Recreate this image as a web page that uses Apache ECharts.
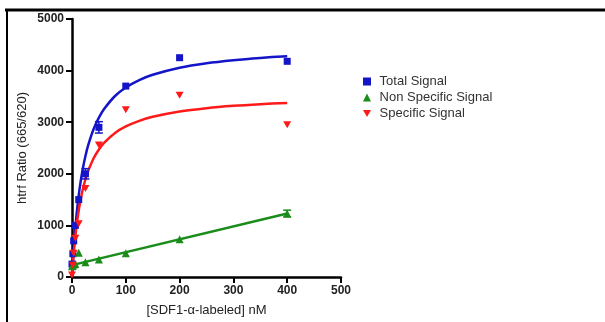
<!DOCTYPE html>
<html><head><meta charset="utf-8">
<script src="https://cdn.jsdelivr.net/npm/echarts@6/dist/echarts.min.js"></script>
<style>html,body{margin:0;padding:0;background:#fff}#c{width:605px;height:322px}</style>
</head><body><div id="c"></div>
<script>
// concentrations (nM)
const conc = [0, 1.5625, 3.125, 6.25, 12.5, 25, 50, 100, 200, 400];
const totalSignal = [250, 450, 700, 1000, 1500, 2000, 2900, 3700, 4250, 4180];
const nonSpecific = [210, 220, 240, 250, 470, 285, 340, 460, 730, 1230];
const specific = [40, 230, 460, 750, 1030, 1715, 2560, 3240, 3520, 2950];
// error bars (half-width) where visible
const totalErr = [0, 0, 0, 0, 0, 100, 110, 0, 0, 0];
const nonSpecErr = [0, 0, 0, 0, 0, 0, 0, 0, 0, 65];
// fitted curves
const fitX = [0, 2, 4, 6, 8, 10, 12.5, 15, 20, 25, 30, 40, 50, 60, 80, 100, 125, 150, 200, 250, 300, 350, 400];
const fitTotal = [0, 358, 664, 927, 1157, 1360, 1582, 1776, 2092, 2345, 2549, 2862, 3089, 3260, 3508, 3673, 3817, 3920, 4056, 4143, 4202, 4246, 4280];
const fitSpecific = [0, 296, 548, 763, 949, 1113, 1290, 1443, 1695, 1894, 2054, 2297, 2472, 2605, 2792, 2918, 3027, 3104, 3207, 3272, 3317, 3349, 3374];
const fitNSx = [0, 400];
const fitNS = [230, 1230];
const xTicks = [0, 100, 200, 300, 400, 500];
const yTicks = [0, 1000, 2000, 3000, 4000, 5000];

const BLUE = '#1414c8', GREEN = '#1a8c1a', RED = '#ff1a1a';
const zip = (a, b) => a.map((v, i) => [v, b[i]]);
const errData = (ys, es) => conc.map((x, i) => [x, ys[i] - es[i], ys[i] + es[i]]).filter((d, i) => es[i] > 0);

function errRender(color) {
  return function (params, api) {
    const x = api.value(0), lo = api.value(1), hi = api.value(2);
    const p1 = api.coord([x, lo]), p2 = api.coord([x, hi]);
    const w = 4;
    return {
      type: 'group',
      children: [
        {type: 'line', shape: {x1: p1[0], y1: p1[1], x2: p2[0], y2: p2[1]}, style: {stroke: color, lineWidth: 1.5}},
        {type: 'line', shape: {x1: p1[0] - w, y1: p1[1], x2: p1[0] + w, y2: p1[1]}, style: {stroke: color, lineWidth: 1.5}},
        {type: 'line', shape: {x1: p2[0] - w, y1: p2[1], x2: p2[0] + w, y2: p2[1]}, style: {stroke: color, lineWidth: 1.5}}
      ]
    };
  };
}

const chart = echarts.init(document.getElementById('c'), null, {renderer: 'canvas'});
const axisCommon = {
  axisLine: {show: true, lineStyle: {color: '#000', width: 2.5}},
  axisTick: {show: true, length: 6, lineStyle: {color: '#000', width: 2}},
  splitLine: {show: false},
  axisLabel: {color: '#222', fontFamily: 'Arial, Liberation Sans', fontSize: 12, fontWeight: 'bold', margin: 8, formatter: v => String(v)}
};
const DOWN_TRI = 'path://M0,0 L10,0 L5,9 Z';
chart.setOption({
  animation: false,
  backgroundColor: '#fff',
  grid: {left: 72, right: 264, top: 19, bottom: 41},
  xAxis: Object.assign({}, axisCommon, {
    type: 'value', min: xTicks[0], max: xTicks[xTicks.length - 1], interval: 100,
    name: '[SDF1-\u03b1-labeled] nM', nameLocation: 'middle', nameGap: 27,
    nameTextStyle: {color: '#222', fontFamily: 'Arial, Liberation Sans', fontSize: 13}
  }),
  yAxis: Object.assign({}, axisCommon, {
    type: 'value', min: yTicks[0], max: yTicks[yTicks.length - 1], interval: 1000,
    name: 'htrf Ratio (665/620)', nameLocation: 'middle', nameGap: 43,
    nameTextStyle: {color: '#222', fontFamily: 'Arial, Liberation Sans', fontSize: 13}
  }),
  legend: {
    orient: 'vertical', left: 358, top: 70, itemWidth: 8, itemHeight: 8, itemGap: 3,
    data: [
      {name: 'Total Signal', icon: 'rect'},
      {name: 'Non Specific Signal', icon: 'triangle'},
      {name: 'Specific Signal', icon: DOWN_TRI}
    ],
    formatter: n => ' ' + n,
    textStyle: {color: '#333', fontFamily: 'Arial, Liberation Sans', fontSize: 13}
  },
  graphic: [
    {type: 'line', shape: {x1: 5, y1: 10, x2: 605, y2: 10}, style: {stroke: '#000', lineWidth: 3}},
    {type: 'line', shape: {x1: 7, y1: 9, x2: 7, y2: 322}, style: {stroke: '#000', lineWidth: 2}}
  ],
  series: [
    {name: 'fitTotal', type: 'line', data: zip(fitX, fitTotal), smooth: 0.3, showSymbol: false, lineStyle: {color: BLUE, width: 2.5}, z: 3},
    {name: 'fitNS', type: 'line', data: zip(fitNSx, fitNS), showSymbol: false, lineStyle: {color: GREEN, width: 2.5}, z: 3},
    {name: 'fitSpec', type: 'line', data: zip(fitX, fitSpecific), smooth: 0.3, showSymbol: false, lineStyle: {color: RED, width: 2.5}, z: 3},
    {name: 'errT', type: 'custom', data: errData(totalSignal, totalErr), renderItem: errRender(BLUE), z: 4},
    {name: 'errNS', type: 'custom', data: errData(nonSpecific, nonSpecErr), renderItem: errRender(GREEN), z: 4},
    {name: 'Total Signal', type: 'scatter', data: zip(conc, totalSignal), symbol: 'rect', symbolSize: 7, itemStyle: {color: BLUE, opacity: 1}, z: 5},
    {name: 'Non Specific Signal', type: 'scatter', data: zip(conc, nonSpecific), symbol: 'triangle', symbolSize: 8, itemStyle: {color: GREEN, opacity: 1}, z: 5},
    {name: 'Specific Signal', type: 'scatter', data: zip(conc, specific), symbol: DOWN_TRI, symbolSize: [8, 7], itemStyle: {color: RED, opacity: 1}, z: 5}
  ]
});
</script>
</body></html>
